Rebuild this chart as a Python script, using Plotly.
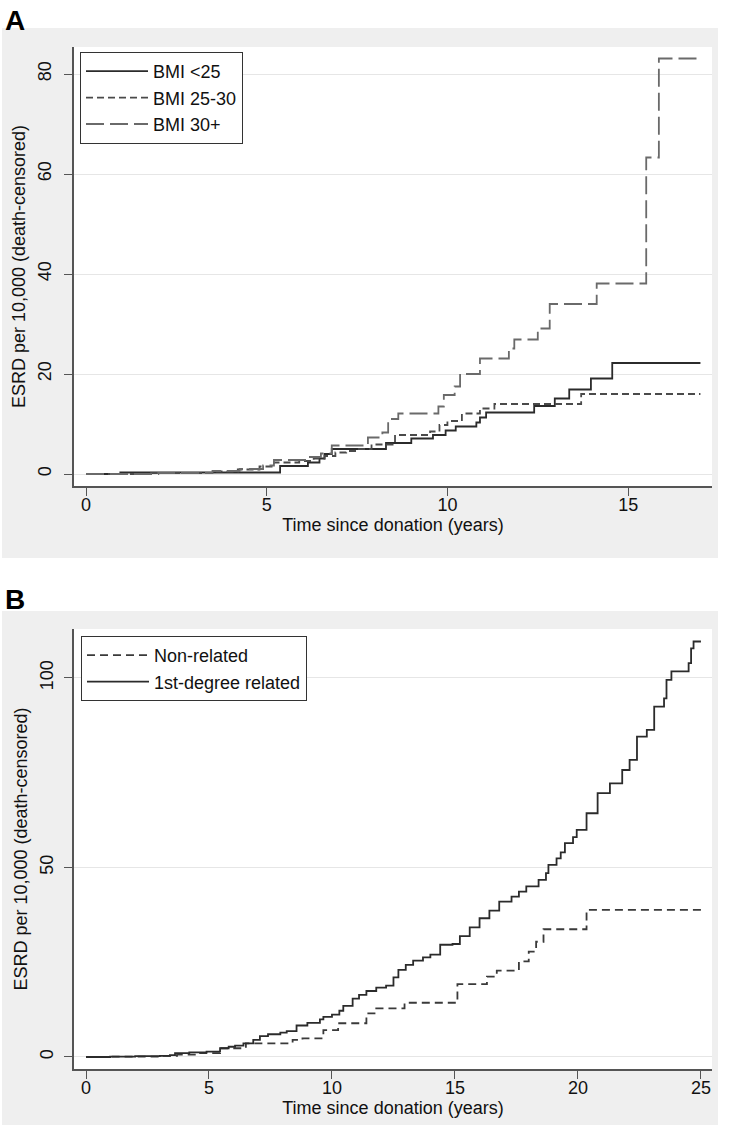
import plotly.graph_objects as go

# ---------------- Data: panel A (BMI groups) ----------------
bmi_lt25_t = [0, 0.95, 5.37, 6.14, 6.46, 6.6, 6.8, 8.3, 9.0, 9.6, 9.95, 10.23, 10.8, 10.9, 11.07,
              12.4, 12.97, 13.37, 13.97, 14.56, 17.0]
bmi_lt25_v = [0, 0.3, 1.6, 2.3, 3.1, 4.0, 5.0, 6.2, 7.1, 7.8, 8.7, 9.5, 10.3, 11.3, 12.3,
              13.6, 15.1, 16.9, 19.1, 22.2, 22.2]

bmi_25_30_t = [0, 1.8, 3.6, 4.2, 4.8, 5.2, 5.9, 6.3, 6.6, 6.9, 7.2, 7.5, 7.9, 8.55, 9.52, 9.78,
               10.0, 10.4, 10.9, 11.3, 13.7, 17.0]
bmi_25_30_v = [0, 0.2, 0.5, 0.9, 1.5, 2.3, 2.6, 3.1, 3.6, 4.3, 4.6, 5.0, 5.9, 7.8, 8.5, 9.8,
               10.6, 12.1, 13.1, 14.0, 16.0, 16.0]

bmi_30p_t = [0, 2.0, 3.5, 4.25, 4.9, 5.2, 6.1, 6.5, 6.8, 7.8, 8.2, 8.36, 8.64, 9.75, 9.9, 10.2,
             10.35, 10.9, 11.7, 11.85, 12.5, 12.83, 14.13, 15.5, 15.85, 17.0]
bmi_30p_v = [0, 0.2, 0.6, 1.0, 1.7, 2.8, 3.4, 4.1, 5.7, 7.3, 8.3, 11.0, 12.1, 13.5, 15.8, 17.5,
             20.0, 23.1, 25.1, 26.9, 29.1, 34.0, 38.1, 63.3, 83.1, 83.1]

# ---------------- Data: panel B (relation) ----------------
nonrel_t = [0, 1.0, 3.0, 3.7, 4.6, 5.45, 6.5, 8.4, 8.8, 9.65, 10.25, 11.4, 11.8, 12.95, 15.1,
            16.3, 16.7, 17.6, 18.0, 18.3, 18.6, 20.35, 25.0]
nonrel_v = [0, 0.1, 0.3, 0.6, 1.0, 2.3, 3.6, 4.5, 4.9, 7.1, 8.9, 11.5, 12.8, 14.3, 19.2,
            21.2, 22.8, 25.2, 27.8, 30.4, 33.7, 38.8, 38.8]

firstdeg_t = [0, 0.98, 2.0, 3.0, 3.41, 3.62, 4.2, 4.9, 5.45, 5.8, 6.06, 6.4, 6.8, 7.07, 7.4, 7.9,
              8.16, 8.56, 9.0, 9.51, 9.65, 10.0, 10.3, 10.46, 10.84, 11.1, 11.4, 11.8, 12.2, 12.5,
              12.7, 13.0, 13.3, 13.7, 14.0, 14.4, 14.9, 15.2, 15.6, 16.0, 16.4, 16.8, 17.3, 17.6,
              17.9, 18.4, 18.7, 18.8, 19.13, 19.3, 19.47, 19.8, 19.95, 20.35, 20.8, 21.3, 21.8,
              22.1, 22.4, 22.8, 23.1, 23.5, 23.6, 23.8, 24.5, 24.6, 24.7, 25.0]
firstdeg_v = [0, 0.1, 0.2, 0.3, 0.5, 1.0, 1.2, 1.4, 2.3, 2.7, 3.0, 3.6, 4.5, 5.5, 6.0, 6.4,
              6.8, 8.3, 9.0, 9.9, 10.6, 11.2, 12.2, 13.5, 15.4, 16.4, 17.4, 18.3, 18.8, 21.0,
              23.0, 24.3, 25.4, 26.3, 27.0, 29.6, 29.8, 31.9, 34.2, 36.6, 38.6, 41.0, 42.3, 43.6,
              45.0, 46.7, 48.5, 50.7, 52.4, 54.0, 56.4, 58.0, 59.9, 64.3, 69.6, 72.2, 75.7,
              78.4, 84.5, 86.3, 92.4, 94.6, 99.5, 101.7, 103.9, 107.8, 109.6, 109.6]

ticks_xA = [0, 5, 10, 15]
ticks_yA = [0, 20, 40, 60, 80]
ticks_xB = [0, 5, 10, 15, 20, 25]
ticks_yB = [0, 50, 100]

x_title = "Time since donation (years)"
y_title = "ESRD per 10,000 (death-censored)"

# ---------------- Layout geometry ----------------
W, H = 733, 1143
FONT = "Liberation Sans, Arial, sans-serif"
GRAY = "#efefef"


def px(x):
    return x / W


def py(y):
    return 1 - y / H


fig = go.Figure()

fig.add_trace(go.Scatter(x=bmi_lt25_t, y=bmi_lt25_v, mode="lines", name="BMI <25",
                         line=dict(shape="hv", color="#2b2b2b", width=1.8),
                         xaxis="x", yaxis="y", legend="legend"))
fig.add_trace(go.Scatter(x=bmi_25_30_t, y=bmi_25_30_v, mode="lines", name="BMI 25-30",
                         line=dict(shape="hv", color="#4a4a4a", width=1.8, dash="7px,4px"),
                         xaxis="x", yaxis="y", legend="legend"))
fig.add_trace(go.Scatter(x=bmi_30p_t, y=bmi_30p_v, mode="lines", name="BMI 30+",
                         line=dict(shape="hv", color="#6a6a6a", width=1.8, dash="18px,6px"),
                         xaxis="x", yaxis="y", legend="legend"))

fig.add_trace(go.Scatter(x=nonrel_t, y=nonrel_v, mode="lines", name="Non-related",
                         line=dict(shape="hv", color="#3a3a3a", width=1.8, dash="8px,5px"),
                         xaxis="x2", yaxis="y2", legend="legend2"))
fig.add_trace(go.Scatter(x=firstdeg_t, y=firstdeg_v, mode="lines", name="1st-degree related",
                         line=dict(shape="hv", color="#2b2b2b", width=1.8),
                         xaxis="x2", yaxis="y2", legend="legend2"))

xdom = [px(74), px(712)]
axis_common = dict(showline=True, linecolor="#555555", linewidth=1.5, ticks="outside",
                   ticklen=8, tickcolor="#555555", tickwidth=1.2, zeroline=False,
                   tickfont=dict(family=FONT, size=18, color="#111111"))

legend_common = dict(bgcolor="white", bordercolor="#333333", borderwidth=1,
                     font=dict(family=FONT, size=18, color="#111111"),
                     xanchor="left", yanchor="top", itemwidth=62, tracegroupgap=0,
                     traceorder="normal")

fig.update_layout(
    width=W, height=H,
    margin=dict(l=0, r=0, t=0, b=0),
    paper_bgcolor="white", plot_bgcolor="white",
    font=dict(family=FONT, size=18, color="#111111"),
    xaxis=dict(domain=xdom, anchor="y", range=[-0.332, 17.32], tickvals=ticks_xA,
               showgrid=False, ticklabelstandoff=-6,
               title=dict(text=x_title, font=dict(family=FONT, size=18), standoff=1),
               **axis_common),
    yaxis=dict(domain=[py(486), py(47)], anchor="x", range=[-2.4, 85.4], tickvals=ticks_yA,
               tickangle=-90, showgrid=True, gridcolor="#e6e6e6", gridwidth=1,
               ticklabelstandoff=6,
               title=dict(text=y_title, font=dict(family=FONT, size=18), standoff=5),
               **axis_common),
    xaxis2=dict(domain=xdom, anchor="y2", range=[-0.488, 25.45], tickvals=ticks_xB,
                showgrid=False, ticklabelstandoff=-6,
                title=dict(text=x_title, font=dict(family=FONT, size=18), standoff=3),
                **axis_common),
    yaxis2=dict(domain=[py(1069), py(629)], anchor="x2", range=[-3.17, 112.9], tickvals=ticks_yB,
                tickangle=-90, showgrid=True, gridcolor="#e6e6e6", gridwidth=1,
                ticklabelstandoff=4,
                title=dict(text=y_title, font=dict(family=FONT, size=18), standoff=5),
                **axis_common),
    legend=dict(x=px(80), y=py(52), **legend_common),
    legend2=dict(x=px(81), y=py(636), **legend_common),
    shapes=[
        dict(type="rect", xref="paper", yref="paper", x0=px(2), x1=px(718), y0=py(558), y1=py(28),
             fillcolor=GRAY, line=dict(width=0), layer="below"),
        dict(type="rect", xref="paper", yref="paper", x0=px(2), x1=px(718), y0=py(1125), y1=py(611),
             fillcolor=GRAY, line=dict(width=0), layer="below"),
        dict(type="rect", xref="paper", yref="paper", x0=px(74), x1=px(712), y0=py(486), y1=py(47),
             fillcolor="white", line=dict(width=0), layer="below"),
        dict(type="rect", xref="paper", yref="paper", x0=px(74), x1=px(712), y0=py(1069), y1=py(629),
             fillcolor="white", line=dict(width=0), layer="below"),
    ],
    annotations=[
        dict(text="<b>A</b>", xref="paper", yref="paper", x=px(3), y=py(3), xanchor="left",
             yanchor="top", showarrow=False, font=dict(family=FONT, size=28, color="black")),
        dict(text="<b>B</b>", xref="paper", yref="paper", x=px(3), y=py(582), xanchor="left",
             yanchor="top", showarrow=False, font=dict(family=FONT, size=28, color="black")),
    ],
)

fig.write_html("out.html", config={"displayModeBar": False},
               post_script="document.body.style.margin='0px';")
